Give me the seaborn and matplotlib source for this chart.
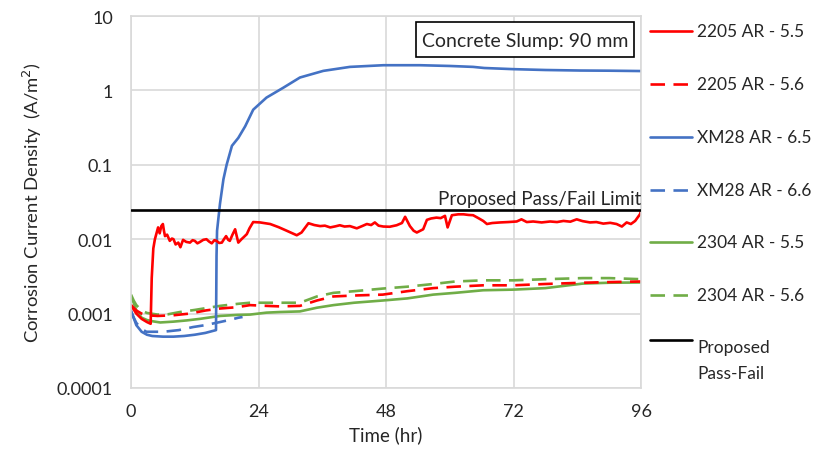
import numpy as np
import pandas as pd
import matplotlib
matplotlib.use("Agg")
import matplotlib.pyplot as plt
from matplotlib.lines import Line2D
from matplotlib.patches import Rectangle
import seaborn as sns

# ---------------- data ----------------
red55_t = [0, 1, 2, 3, 3.7, 3.9, 4.2, 4.5, 4.8, 5.1, 5.4, 5.7, 6.0, 6.2, 6.4, 6.8, 7.3, 7.7, 8.0, 8.4,
           8.9, 9.3, 9.8, 10.4, 11.1, 11.6, 12.0, 12.5, 13.0, 13.6, 14.2, 14.7, 15.2, 15.7, 16.1, 16.6,
           17.1, 17.5, 17.9, 18.3, 18.6, 19.1, 19.6, 19.9, 20.2, 20.8, 21.3, 21.8, 22.3, 23.0, 24.3,
           26.2, 27.8, 29.3, 31.2, 32.1, 33.0, 33.4, 34.5, 35.6, 36.5, 37.5, 38.5, 39.3, 40.2, 41.2,
           42.5, 43.5, 44.4, 45.2, 45.9, 46.6, 47.5, 48.7, 50.0, 51.0, 51.6, 52.5, 53.2, 53.8, 55.0,
           55.7, 56.5, 57.5, 58.3, 59.1, 59.6, 60.4, 61.6, 62.6, 63.5, 64.4, 65.5, 66.3, 67.0, 68.0,
           69.5, 71.0, 72.6, 73.5, 74.5, 75.7, 77.3, 78.9, 80.2, 81.4, 82.7, 83.9, 85.0, 86.4, 87.6,
           88.9, 90.2, 91.4, 92.4, 93.3, 94.1, 94.9, 95.8, 96]
red55_v = [0.0013, 0.001, 0.00085, 0.00077, 0.00073, 0.003, 0.0075, 0.010, 0.012, 0.0144, 0.012, 0.015,
           0.016, 0.013, 0.011, 0.0115, 0.0095, 0.0102, 0.010, 0.0085, 0.009, 0.0078, 0.0098, 0.0092,
           0.009, 0.0097, 0.0095, 0.0088, 0.0092, 0.0098, 0.010, 0.0093, 0.0088, 0.0097, 0.0095, 0.0089,
           0.009, 0.0100, 0.011, 0.0098, 0.0095, 0.0115, 0.0136, 0.011, 0.009, 0.010, 0.0108, 0.0117,
           0.014, 0.017, 0.0168, 0.016, 0.0145, 0.013, 0.0113, 0.0123, 0.015, 0.0164, 0.0155, 0.015,
           0.0152, 0.0144, 0.0149, 0.0154, 0.0148, 0.015, 0.014, 0.015, 0.016, 0.0155, 0.0168, 0.0152,
           0.0148, 0.0147, 0.0154, 0.0165, 0.020, 0.015, 0.013, 0.0123, 0.0136, 0.0182, 0.019, 0.0195,
           0.0192, 0.0206, 0.0144, 0.021, 0.0216, 0.0216, 0.0212, 0.021, 0.019, 0.0176, 0.016, 0.0165,
           0.0168, 0.017, 0.0173, 0.0185, 0.017, 0.0173, 0.0168, 0.0173, 0.017, 0.0176, 0.0172, 0.0185,
           0.0175, 0.0168, 0.017, 0.0162, 0.0166, 0.016, 0.0148, 0.0168, 0.016, 0.0176, 0.0216, 0.024]

red56_t = [0, 1, 2, 3, 5, 8, 11, 14, 16.75, 20, 22.4, 25.5, 28, 31.8, 35, 38.1, 42, 47.4, 52, 56.9,
           61, 66.3, 72, 78, 85, 90, 96]
red56_v = [0.0013, 0.0011, 0.001, 0.00095, 0.00093, 0.00095, 0.001, 0.0011, 0.00117, 0.00122, 0.0013,
           0.00127, 0.00125, 0.00127, 0.0015, 0.0017, 0.00175, 0.0018, 0.002, 0.0022, 0.0023, 0.0024,
           0.0024, 0.0025, 0.0026, 0.00265, 0.0027]

xm65_t = [0, 1, 2, 3, 4, 6, 8, 10, 12, 14, 16.0, 16.1, 16.2, 16.75, 17.4, 18.0, 19.0, 20.2, 21.5, 23.0,
          25.5, 28.7, 31.8, 36.2, 41.2, 47.5, 54.4, 60.0, 64.4, 66.5, 72, 78, 84.5, 90, 96]
xm65_v = [0.0011, 0.0007, 0.00057, 0.00052, 0.0005, 0.00049, 0.00049, 0.0005, 0.00052, 0.00055, 0.0006,
          0.006, 0.013, 0.03, 0.064, 0.1, 0.18, 0.23, 0.33, 0.55, 0.8, 1.09, 1.49, 1.83, 2.07, 2.18,
          2.18, 2.13, 2.07, 2.0, 1.93, 1.88, 1.85, 1.84, 1.82]

xm66_t = [0, 1, 2, 2.9, 6.1, 9, 11.7, 14, 16.75, 18.5, 20.2, 21]
xm66_v = [0.00105, 0.00075, 0.00062, 0.00057, 0.00057, 0.0006, 0.00066, 0.0007, 0.00077, 0.00082,
          0.00088, 0.0009]

g55_t = [0, 0.5, 1, 2, 3, 4, 5.5, 8, 10.5, 13, 16.75, 20, 22.4, 25.5, 28, 31.8, 35, 38.1, 42, 47.4,
         52, 56.9, 61, 66.3, 72, 78, 85, 90, 96]
g55_v = [0.0017, 0.0014, 0.0011, 0.00088, 0.00082, 0.00079, 0.00076, 0.00078, 0.00081, 0.00085,
         0.00093, 0.00096, 0.00097, 0.00103, 0.00105, 0.00107, 0.0012, 0.0013, 0.0014, 0.0015, 0.0016,
         0.0018, 0.0019, 0.00206, 0.0021, 0.0022, 0.00253, 0.0026, 0.00262]

g56_t = [0, 0.5, 1, 2, 3, 5, 7, 9.2, 12, 16.75, 20, 22.4, 25.5, 28, 31.8, 35, 38.1, 42, 47.4, 52,
         56.9, 61, 66.3, 72, 78, 85, 90, 96]
g56_v = [0.0018, 0.0015, 0.0013, 0.0011, 0.00102, 0.00097, 0.00098, 0.00105, 0.00112, 0.00127, 0.00135,
         0.0014, 0.0014, 0.0014, 0.0014, 0.0017, 0.0019, 0.002, 0.00217, 0.0023, 0.0025, 0.0027,
         0.0028, 0.0028, 0.0029, 0.003, 0.003, 0.0029]

pass_fail_limit = 0.025

series_labels = ["2205 AR - 5.5", "2205 AR - 5.6", "XM28 AR - 6.5", "XM28 AR - 6.6",
                 "2304 AR - 5.5", "2304 AR - 5.6"]
x_ticks = [0, 24, 48, 72, 96]
y_ticks = [0.0001, 0.001, 0.01, 0.1, 1, 10]
y_tick_labels = ["0.0001", "0.001", "0.01", "0.1", "1", "10"]

# ---------------- style ----------------
sns.set_theme(style="white")
plt.rcParams["font.family"] = ["Lato", "DejaVu Sans"]

RED = "#FF0000"
BLUE = "#4472C4"
GREEN = "#70AD47"
GRID = "#d9d9d9"
TXT = "#262626"
LW = 1.9
DASH = (0, (5.5, 3.2))

W, H = 831, 452
fig = plt.figure(figsize=(8.31, 4.52), dpi=100)
ax = fig.add_axes([131 / W, 63 / H, 510 / W, 372 / H])

series = [
    (red55_t, red55_v, RED, "-"),
    (red56_t, red56_v, RED, DASH),
    (xm65_t, xm65_v, BLUE, "-"),
    (xm66_t, xm66_v, BLUE, DASH),
    (g55_t, g55_v, GREEN, "-"),
    (g56_t, g56_v, GREEN, DASH),
]
order = [4, 5, 2, 3, 1, 0]
for i in order:
    t, v, c, ls = series[i]
    df = pd.DataFrame({"t": t, "v": v})
    sns.lineplot(data=df, x="t", y="v", ax=ax, color=c, linewidth=LW, linestyle=ls,
                 errorbar=None, estimator=None, sort=False)

ax.axhline(pass_fail_limit, color="black", linewidth=LW, zorder=5)
ax.text(96, pass_fail_limit * 1.07, "Proposed Pass/Fail Limit", ha="right", va="bottom",
        fontsize=13.5, color=TXT)

ax.set_yscale("log")
ax.set_ylim(0.0001, 10)
ax.set_xlim(0, 96)
ax.set_xticks(x_ticks)
ax.set_xticklabels([str(x) for x in x_ticks])
ax.set_yticks(y_ticks)
ax.set_yticklabels(y_tick_labels)
ax.minorticks_off()
ax.tick_params(axis="both", length=0, labelsize=13, colors=TXT)
ax.tick_params(axis="y", pad=13)
ax.tick_params(axis="x", pad=11)
ax.grid(True, color=GRID, linewidth=1.2)
for s in ax.spines.values():
    s.set_color(GRID)
    s.set_linewidth(1.2)

ax.set_xlabel("Time (hr)", fontsize=13.5, color=TXT, labelpad=4)
ax.set_ylabel("Corrosion Current Density  (A/m$^2$)", fontsize=13.3, color=TXT, labelpad=9)

# annotation box
ax.add_patch(Rectangle(((416 - 131) / 510, (389 - 58) / 372), 218 / 510, 35 / 372,
                       transform=ax.transAxes, facecolor="white", edgecolor="black",
                       linewidth=1.2, zorder=6))
ax.text((525 - 131) / 510, (389 - 41) / 372, "Concrete Slump: 90 mm", transform=ax.transAxes,
        ha="center", va="center", fontsize=14, color=TXT, zorder=7)

# ---------------- legend (outside right) ----------------
leg_y = [32, 85, 138, 191, 243, 296]
styles = [(RED, "-"), (RED, DASH), (BLUE, "-"), (BLUE, DASH), (GREEN, "-"), (GREEN, DASH)]
for lab, y, (c, ls) in zip(series_labels, leg_y, styles):
    fig.add_artist(Line2D([650 / W, 692 / W], [1 - y / H, 1 - y / H], color=c, linewidth=LW,
                          linestyle=ls))
    fig.text(697 / W, 1 - y / H, lab, ha="left", va="center", fontsize=12.5, color=TXT)
fig.add_artist(Line2D([650 / W, 692 / W], [1 - 341 / H, 1 - 341 / H], color="black", linewidth=LW))
fig.text(697 / W, 1 - 348 / H, "Proposed", ha="left", va="center", fontsize=12.5, color=TXT)
fig.text(697 / W, 1 - 374 / H, "Pass-Fail", ha="left", va="center", fontsize=12.5, color=TXT)

fig.savefig("out.png", dpi=100, facecolor="white")
